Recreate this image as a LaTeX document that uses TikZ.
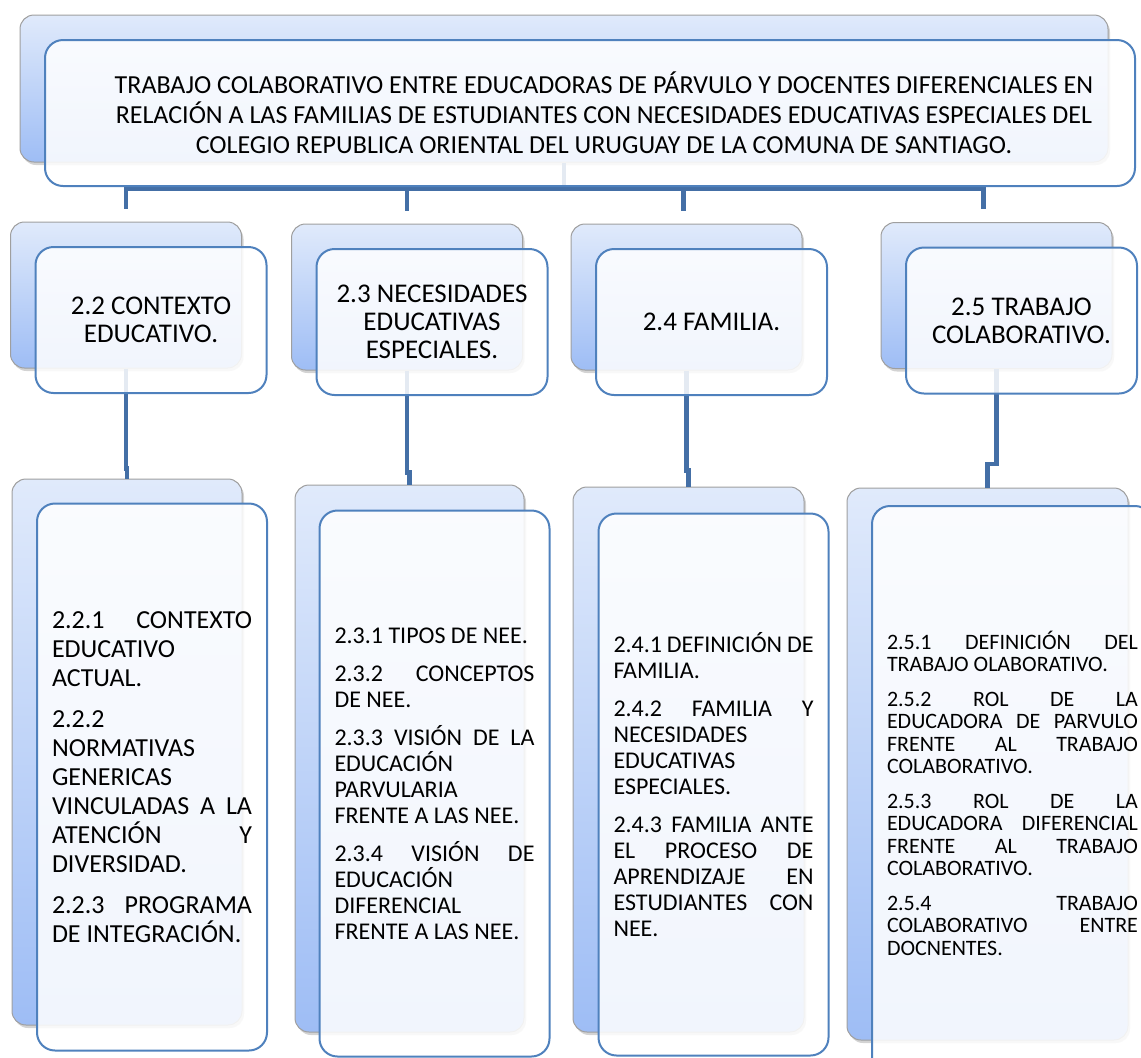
\documentclass[tikz,border=0pt]{standalone}
\usepackage{fontspec}
\setmainfont{Carlito}
\usepackage{xcolor}
\usepackage{tikz}
\usetikzlibrary{positioning, shadows}

\definecolor{connblue}{RGB}{68,111,166}
\definecolor{frameblue}{RGB}{79,129,189}
\definecolor{backtop}{RGB}{224,234,251}
\definecolor{backbot}{RGB}{158,189,245}

\tikzset{
  backbox/.style={draw=gray!75, line width=0.5pt, rounded corners=7pt,
    top color=backtop, bottom color=backbot, inner sep=0pt,
    drop shadow={shadow xshift=1pt, shadow yshift=-1.5pt, opacity=0.35}},
  frontbox/.style={draw=frameblue, line width=1pt, rounded corners=9pt,
    fill=white, fill opacity=0.86, text opacity=1, inner sep=0pt},
  headsize/.style={minimum width=115.5pt, minimum height=73pt},
  headtext/.style={align=center, font=\fontsize{13.5}{14}\selectfont},
  listtext/.style={align=justify, inner xsep=7.5pt, text width=#1},
  conn/.style={draw=connblue, line width=2.4pt}
}

\newcommand{\pgap}{\par\vspace{6pt}}

\begin{document}
\begin{tikzpicture}[x=0.5pt, y=-0.5pt]
    \useasboundingbox (0,0) rectangle (1141,1057);
    \clip (0,0) rectangle (1141,1057);

    % back boxes
    \node[backbox, minimum width=544pt, minimum height=73.5pt] (tb) at (564,88.5) {};
    \foreach \i/\x/\y in {1/126/295, 2/407/297, 3/686.5/297, 4/996.5/295.5}
        \node[backbox, headsize] (hb\i) at (\x,\y) {};
    \node[backbox, minimum width=115pt, minimum height=273pt] (bb1) at (127,752) {};
    \node[backbox, minimum width=114.5pt, minimum height=273.5pt] (bb2) at (409.5,758.5) {};
    \node[backbox, minimum width=115.5pt, minimum height=272.5pt] (bb3) at (688.5,759.5) {};
    \node[backbox, minimum width=140.5pt, minimum height=276pt] (bb4) at (987.5,764) {};

    % connectors from the title down to the headings
    \draw[conn] (tb.south) -- ++(0,26) coordinate (bar);
    \foreach \i/\s in {1/0, 2/0, 3/-1.5, 4/-6.5}
        \draw[conn, shorten >=6.5pt] (bar) -| ([xshift=\s pt]hb\i.north);

    % connectors from the headings down to the lists
    \foreach \i/\d in {1/100, 2/102, 3/100, 4/95}
        \draw[conn] (hb\i.south) -- ++(0,\d) -| (bb\i.north);

    % front box with the title
    \node[frontbox, minimum width=545pt, minimum height=73pt, align=center,
          font=\fontsize{13}{15}\selectfont] (tf) at (590,113)
        {\hspace*{14pt}TRABAJO COLABORATIVO ENTRE EDUCADORAS DE PÁRVULO Y DOCENTES DIFERENCIALES EN\\
         \hspace*{14pt}RELACIÓN A LAS FAMILIAS DE ESTUDIANTES CON NECESIDADES EDUCATIVAS ESPECIALES DEL\\
         \hspace*{14pt}COLEGIO REPUBLICA ORIENTAL DEL URUGUAY DE LA COMUNA DE SANTIAGO.};

    % front boxes with the headings
    \foreach \i/\t in {1/{2.2 CONTEXTO\\EDUCATIVO.},
                       2/{2.3 NECESIDADES\\EDUCATIVAS\\ESPECIALES.},
                       3/{2.4 FAMILIA.},
                       4/{2.5 TRABAJO\\COLABORATIVO.}}
        \node[frontbox, headsize, headtext] (hf\i) at ([xshift=12.5pt, yshift=-12.5pt]hb\i.center) {\t};

    % front boxes with the lists
    \node[frontbox, listtext=100pt, minimum height=273.5pt,
          font=\fontsize{13}{14.5}\selectfont] (bf1) at ([xshift=12.5pt, yshift=-12.5pt]bb1.center)
        {2.2.1~CONTEXTO\linebreak EDUCATIVO\linebreak ACTUAL.\pgap
         2.2.2\linebreak NORMATIVAS\linebreak GENERICAS\linebreak VINCULADAS~A~LA\linebreak ATENCIÓN~Y\linebreak DIVERSIDAD.\pgap
         2.2.3~PROGRAMA\linebreak DE~INTEGRACIÓN.};
    \node[frontbox, listtext=100pt, minimum height=273pt,
          font=\fontsize{12}{13}\selectfont] (bf2) at ([xshift=12.5pt, yshift=-12.5pt]bb2.center)
        {2.3.1~TIPOS~DE~NEE.\pgap
         2.3.2~CONCEPTOS\linebreak DE~NEE.\pgap
         2.3.3~VISIÓN~DE~LA\linebreak EDUCACIÓN\linebreak PARVULARIA\linebreak FRENTE~A~LAS~NEE.\pgap
         2.3.4~VISIÓN~DE\linebreak EDUCACIÓN\linebreak DIFERENCIAL\linebreak FRENTE~A~LAS~NEE.};
    \node[frontbox, listtext=100pt, minimum height=271pt,
          font=\fontsize{12}{13}\selectfont] (bf3) at ([xshift=12.5pt, yshift=-12.5pt]bb3.center)
        {2.4.1~DEFINICIÓN~DE\linebreak FAMILIA.\pgap
         2.4.2~FAMILIA~Y\linebreak NECESIDADES\linebreak EDUCATIVAS\linebreak ESPECIALES.\pgap
         2.4.3~FAMILIA~ANTE\linebreak EL~PROCESO~DE\linebreak APRENDIZAJE~EN\linebreak ESTUDIANTES~CON\linebreak NEE.};
    \node[frontbox, listtext=125.5pt, minimum height=287pt,
          font=\fontsize{11}{11.25}\selectfont] (bf4) at ([xshift=12.5pt, yshift=-14.5pt]bb4.center)
        {2.5.1~DEFINICIÓN~DEL\linebreak TRABAJO~OLABORATIVO.\pgap
         2.5.2~ROL~DE~LA\linebreak EDUCADORA~DE~PARVULO\linebreak FRENTE~AL~TRABAJO\linebreak COLABORATIVO.\pgap
         2.5.3~ROL~DE~LA\linebreak EDUCADORA~DIFERENCIAL\linebreak FRENTE~AL~TRABAJO\linebreak COLABORATIVO.\pgap
         2.5.4~TRABAJO\linebreak COLABORATIVO~ENTRE\linebreak DOCNENTES.};
\end{tikzpicture}
\end{document}
